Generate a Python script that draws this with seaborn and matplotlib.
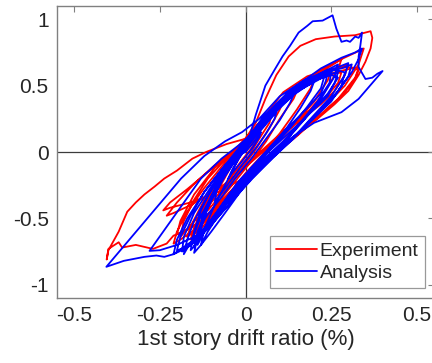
import matplotlib
matplotlib.use("Agg")
import matplotlib.pyplot as plt
import seaborn as sns
import pandas as pd

# Experiment: 1st story drift ratio (%) and normalized story shear, cycle by cycle
exp_drift = [
    0.0,
    0.02, 0.04, 0.035, 0.015, -0.01, -0.03, -0.04, -0.035, -0.015, 0.0,
    0.03, 0.06, 0.075, 0.07, 0.04, 0.01, -0.03, -0.06, -0.075, -0.07, -0.04, -0.01,
    0.03, 0.07, 0.10, 0.11, 0.10, 0.07, 0.03, -0.01, -0.05, -0.09, -0.11, -0.10, -0.07, -0.03, 0.0,
    0.04, 0.09, 0.13, 0.15, 0.14, 0.10, 0.06, 0.02, -0.03, -0.08, -0.12, -0.14, -0.13, -0.10, -0.05, -0.01,
    0.05, 0.10, 0.15, 0.19, 0.20, 0.19, 0.15, 0.10, 0.05, 0.0, -0.05, -0.10, -0.15, -0.17, -0.16, -0.12, -0.07, -0.02,
    0.04, 0.10, 0.16, 0.22, 0.25, 0.24, 0.20, 0.14, 0.08, 0.02, -0.04, -0.09, -0.13, -0.15, -0.14, -0.11, -0.06, -0.01,
    0.05, 0.12, 0.19, 0.25, 0.28, 0.27, 0.23, 0.17, 0.11, 0.05, -0.02, -0.08, -0.14, -0.19, -0.21, -0.20, -0.17, -0.12, -0.06, -0.01,
    0.04, 0.11, 0.18, 0.24, 0.28, 0.27, 0.23, 0.18, 0.12, 0.06, 0.0, -0.06, -0.12, -0.17, -0.19, -0.18, -0.15, -0.11, -0.06, -0.01,
    0.06, 0.13, 0.20, 0.26, 0.31, 0.33, 0.32, 0.28, 0.22, 0.15, 0.08, 0.01, -0.08, -0.16, -0.22, -0.24, -0.22, -0.17, -0.10, -0.04, 0.0,
    0.06, 0.14, 0.21, 0.27, 0.30, 0.29, 0.26, 0.22, 0.17, 0.11, 0.05, -0.02, -0.09, -0.16, -0.21, -0.23, -0.20, -0.15, -0.09, -0.03,
    0.07, 0.15, 0.22, 0.28, 0.33, 0.345, 0.33, 0.29, 0.23, 0.17, 0.10, 0.03, -0.04, -0.10, -0.14, -0.16, -0.15, -0.12, -0.07, -0.02, 0.0,
    0.03, 0.058, 0.09, 0.126, 0.16, 0.205, 0.26, 0.32, 0.35, 0.365, 0.37, 0.365, 0.35, 0.33, 0.30, 0.26, 0.21, 0.15, 0.09, 0.03,
    -0.03, -0.09, -0.14, -0.18, -0.21, -0.23, -0.27, -0.32, -0.36, -0.37, -0.40, -0.405, -0.40, -0.37, -0.345, -0.32, -0.295,
    -0.265, -0.237, -0.20, -0.155, -0.115, -0.055, 0.0,
    0.05, 0.11, 0.18, 0.24, 0.30, 0.33, 0.32, 0.27, 0.20, 0.13, 0.06, 0.0, -0.07, -0.13, -0.18, -0.20, -0.19, -0.15, -0.09, -0.03,
]
exp_force = [
    0.0,
    0.07, 0.14, 0.10, 0.02, -0.06, -0.13, -0.17, -0.12, -0.03, 0.03,
    0.12, 0.22, 0.27, 0.22, 0.10, -0.03, -0.15, -0.25, -0.30, -0.24, -0.10, 0.02,
    0.14, 0.27, 0.35, 0.38, 0.32, 0.18, 0.02, -0.12, -0.26, -0.38, -0.44, -0.37, -0.22, -0.05, 0.06,
    0.18, 0.33, 0.42, 0.46, 0.40, 0.25, 0.08, -0.06, -0.22, -0.38, -0.50, -0.55, -0.47, -0.30, -0.10, 0.04,
    0.22, 0.37, 0.47, 0.53, 0.55, 0.48, 0.32, 0.14, -0.02, -0.16, -0.32, -0.48, -0.60, -0.64, -0.56, -0.36, -0.15, 0.03,
    0.20, 0.38, 0.50, 0.58, 0.62, 0.54, 0.38, 0.20, 0.04, -0.12, -0.30, -0.46, -0.58, -0.62, -0.52, -0.34, -0.14, 0.02,
    0.22, 0.42, 0.56, 0.65, 0.70, 0.62, 0.45, 0.26, 0.08, -0.08, -0.25, -0.42, -0.57, -0.66, -0.69, -0.60, -0.45, -0.27, -0.08, 0.06,
    0.22, 0.40, 0.52, 0.58, 0.60, 0.52, 0.40, 0.30, 0.18, 0.04, -0.10, -0.26, -0.44, -0.58, -0.64, -0.52, -0.36, -0.20, -0.06, 0.04,
    0.25, 0.44, 0.55, 0.60, 0.63, 0.62, 0.55, 0.42, 0.28, 0.12, -0.03, -0.18, -0.30, -0.38, -0.42, -0.44, -0.38, -0.28, -0.13, 0.0, 0.07,
    0.28, 0.48, 0.58, 0.63, 0.66, 0.58, 0.46, 0.36, 0.26, 0.14, 0.0, -0.16, -0.30, -0.40, -0.46, -0.48, -0.38, -0.24, -0.10, 0.02,
    0.30, 0.50, 0.62, 0.70, 0.76, 0.78, 0.66, 0.50, 0.34, 0.18, 0.02, -0.14, -0.30, -0.45, -0.58, -0.66, -0.57, -0.40, -0.20, 0.0, 0.10,
    0.22, 0.40, 0.58, 0.72, 0.80, 0.85, 0.87, 0.88, 0.90, 0.91, 0.86, 0.78, 0.68, 0.58, 0.46, 0.36, 0.25, 0.13, 0.01, -0.12,
    -0.26, -0.42, -0.54, -0.60, -0.63, -0.69, -0.73, -0.70, -0.72, -0.68, -0.73, -0.81, -0.74, -0.60, -0.45, -0.38, -0.32,
    -0.26, -0.20, -0.14, -0.05, 0.0, 0.06, 0.10,
    0.25, 0.45, 0.57, 0.62, 0.64, 0.63, 0.56, 0.40, 0.24, 0.08, -0.06, -0.20, -0.38, -0.52, -0.60, -0.62, -0.52, -0.32, -0.12, 0.02,
]

# Analysis: same quantities from the numerical model
ana_drift = [
    0.0,
    0.02, 0.045, 0.04, 0.02, -0.01, -0.04, -0.05, -0.04, -0.02, 0.0,
    0.03, 0.07, 0.09, 0.085, 0.06, 0.03, -0.01, -0.05, -0.08, -0.09, -0.085, -0.06, -0.02, 0.0,
    0.04, 0.08, 0.12, 0.14, 0.13, 0.10, 0.06, 0.02, -0.03, -0.07, -0.11, -0.13, -0.125, -0.10, -0.06, -0.02,
    0.04, 0.09, 0.14, 0.18, 0.20, 0.19, 0.16, 0.12, 0.07, 0.02, -0.03, -0.08, -0.12, -0.15, -0.16, -0.15, -0.13, -0.09, -0.05, 0.0,
    0.04, 0.09, 0.15, 0.20, 0.24, 0.235, 0.22, 0.18, 0.13, 0.08, 0.03, -0.03, -0.08, -0.12, -0.14, -0.13, -0.11, -0.08, -0.04, 0.0,
    0.05, 0.11, 0.17, 0.22, 0.25, 0.245, 0.21, 0.16, 0.11, 0.05, -0.01, -0.07, -0.12, -0.16, -0.18, -0.17, -0.15, -0.11, -0.06, -0.01,
    0.05, 0.12, 0.18, 0.23, 0.27, 0.26, 0.24, 0.20, 0.15, 0.10, 0.04, -0.02, -0.07, -0.11, -0.14, -0.16, -0.15, -0.13, -0.10, -0.06, -0.02,
    0.06, 0.13, 0.20, 0.26, 0.30, 0.29, 0.25, 0.19, 0.13, 0.07, 0.01, -0.05, -0.10, -0.14, -0.17, -0.20, -0.19, -0.16, -0.12, -0.06, -0.01,
    0.07, 0.15, 0.22, 0.28, 0.32, 0.34, 0.33, 0.31, 0.27, 0.22, 0.16, 0.10, 0.04, -0.02, -0.08, -0.13, -0.17, -0.21, -0.20, -0.17, -0.12, -0.06, 0.0,
    0.04, 0.10, 0.16, 0.21, 0.23, 0.22, 0.18, 0.13, 0.08, 0.03, -0.02, -0.07, -0.11, -0.13, -0.12, -0.09, -0.05, -0.01,
    0.06, 0.14, 0.21, 0.26, 0.29, 0.28, 0.25, 0.21, 0.16, 0.11, 0.05, -0.01, -0.06, -0.10, -0.13, -0.15, -0.14, -0.12, -0.09, -0.05, 0.0,
    0.05, 0.12, 0.19, 0.24, 0.27, 0.26, 0.22, 0.17, 0.11, 0.05, -0.01, -0.06, -0.11, -0.15, -0.185, -0.18, -0.15, -0.10, -0.05, 0.0,
    0.01, 0.03, 0.058, 0.085, 0.108, 0.13, 0.155, 0.18, 0.196, 0.225, 0.254, 0.265, 0.28, 0.295, 0.305, 0.32, 0.33, 0.34, 0.335, 0.33,
    0.33, 0.35, 0.37, 0.385, 0.40, 0.37, 0.33, 0.28, 0.20, 0.13, 0.07, 0.02, -0.03, -0.08, -0.12, -0.16, -0.21, -0.237, -0.26, -0.295,
    -0.355, -0.406, -0.188, -0.12, -0.06, -0.01,
    0.04, 0.10, 0.17, 0.23, 0.28, 0.31, 0.30, 0.26, 0.20, 0.14, 0.08, 0.02, -0.05, -0.10, -0.15, -0.20, -0.25, -0.28, -0.13, -0.07, -0.02,
    0.05, 0.12, 0.19, 0.25, 0.27, 0.24, 0.19, 0.13, 0.07, 0.01, -0.05, -0.10, -0.14, -0.15, -0.14, -0.11, -0.07, -0.02, 0.0,
]
ana_force = [
    0.0,
    0.06, 0.15, 0.11, 0.03, -0.07, -0.16, -0.20, -0.14, -0.05, 0.02,
    0.12, 0.24, 0.30, 0.25, 0.14, 0.03, -0.10, -0.24, -0.34, -0.38, -0.30, -0.18, -0.03, 0.04,
    0.16, 0.28, 0.38, 0.43, 0.37, 0.24, 0.10, -0.04, -0.20, -0.34, -0.47, -0.55, -0.47, -0.33, -0.16, 0.0,
    0.18, 0.32, 0.43, 0.50, 0.53, 0.46, 0.33, 0.18, 0.03, -0.12, -0.28, -0.44, -0.57, -0.65, -0.70, -0.62, -0.48, -0.30, -0.13, 0.03,
    0.20, 0.36, 0.50, 0.57, 0.62, 0.54, 0.44, 0.33, 0.20, 0.06, -0.08, -0.26, -0.44, -0.60, -0.70, -0.58, -0.42, -0.24, -0.08, 0.02,
    0.22, 0.38, 0.50, 0.56, 0.60, 0.52, 0.38, 0.22, 0.06, -0.08, -0.24, -0.42, -0.58, -0.68, -0.77, -0.66, -0.52, -0.33, -0.14, 0.04,
    0.26, 0.44, 0.54, 0.58, 0.60, 0.52, 0.42, 0.32, 0.20, 0.08, -0.06, -0.22, -0.40, -0.56, -0.68, -0.74, -0.60, -0.44, -0.28, -0.12, 0.02,
    0.26, 0.44, 0.56, 0.63, 0.67, 0.58, 0.42, 0.25, 0.08, -0.07, -0.22, -0.40, -0.55, -0.66, -0.72, -0.74, -0.64, -0.48, -0.30, -0.10, 0.06,
    0.30, 0.50, 0.63, 0.71, 0.75, 0.78, 0.70, 0.60, 0.46, 0.32, 0.16, 0.02, -0.12, -0.28, -0.46, -0.62, -0.72, -0.77, -0.66, -0.50, -0.30, -0.10, 0.06,
    0.20, 0.36, 0.47, 0.54, 0.57, 0.48, 0.34, 0.18, 0.04, -0.10, -0.26, -0.44, -0.60, -0.70, -0.58, -0.40, -0.20, 0.0,
    0.28, 0.47, 0.57, 0.62, 0.60, 0.50, 0.38, 0.28, 0.16, 0.04, -0.10, -0.28, -0.46, -0.60, -0.70, -0.76, -0.64, -0.46, -0.28, -0.10, 0.04,
    0.24, 0.42, 0.55, 0.62, 0.66, 0.57, 0.40, 0.24, 0.08, -0.06, -0.22, -0.40, -0.56, -0.68, -0.75, -0.64, -0.46, -0.26, -0.08, 0.05,
    0.10, 0.28, 0.50, 0.62, 0.72, 0.80, 0.90, 0.95, 0.985, 0.99, 1.03, 0.93, 0.83, 0.84, 0.83, 0.87, 0.86, 0.90, 0.80, 0.72,
    0.64, 0.55, 0.56, 0.59, 0.61, 0.52, 0.40, 0.30, 0.22, 0.10, -0.04, -0.18, -0.32, -0.46, -0.58, -0.68, -0.77, -0.79, -0.78, -0.79,
    -0.82, -0.865, -0.20, -0.03, 0.08, 0.15,
    0.25, 0.42, 0.54, 0.60, 0.63, 0.66, 0.57, 0.42, 0.26, 0.10, -0.04, -0.20, -0.40, -0.55, -0.64, -0.70, -0.74, -0.745, -0.20, -0.05, 0.05,
    0.20, 0.40, 0.53, 0.58, 0.56, 0.44, 0.30, 0.12, -0.03, -0.18, -0.36, -0.52, -0.64, -0.72, -0.60, -0.42, -0.22, -0.02, 0.0,
]

x_ticks = [-0.5, -0.25, 0, 0.25, 0.5]
x_tick_labels = ["-0.5", "-0.25", "0", "0.25", "0.5"]
y_ticks = [-1, -0.5, 0, 0.5, 1]
y_tick_labels = ["-1", "-0.5", "0", "0.5", "1"]
x_label = "1st story drift ratio (%)"

sns.set_style("white")
plt.rcParams["font.family"] = ["Liberation Sans", "DejaVu Sans"]
plt.rcParams["axes.unicode_minus"] = False

exp_df = pd.DataFrame({"drift": exp_drift, "force": exp_force})
ana_df = pd.DataFrame({"drift": ana_drift, "force": ana_force})

fig = plt.figure(figsize=(4.32, 3.63), dpi=100)
ax = fig.add_axes([57 / 432, 1 - 298 / 363, (434 - 57) / 432, 292 / 363])

ax.axhline(0, color="#3c3c3c", lw=0.9, zorder=0.5)
ax.axvline(0, color="#3c3c3c", lw=0.9, zorder=0.5)

sns.lineplot(data=exp_df, x="drift", y="force", sort=False, estimator=None,
             color="#ff0000", lw=1.3, label="Experiment", ax=ax)
sns.lineplot(data=ana_df, x="drift", y="force", sort=False, estimator=None,
             color="#0000ff", lw=1.3, label="Analysis", ax=ax)

ax.set_xlim(-0.55, 0.55)
ax.set_ylim(-1.1, 1.1)
ax.set_xticks(x_ticks)
ax.set_xticklabels(x_tick_labels)
ax.set_yticks(y_ticks)
ax.set_yticklabels(y_tick_labels)
ax.tick_params(direction="in", length=4, width=0.8, top=True, right=True,
               color="#808080", labelsize=15, labelcolor="#262626", pad=6)
for sp in ax.spines.values():
    sp.set_color("#808080")
    sp.set_linewidth(1.0)

ax.set_xlabel(x_label, fontsize=16, color="#262626", labelpad=3)
ax.set_ylabel("")

leg = ax.legend(loc="lower right", bbox_to_anchor=(0.975, 0.034), borderaxespad=0,
                frameon=True, fancybox=False, fontsize=14, handlelength=2.1,
                handletextpad=0.15, borderpad=0.3, labelspacing=0.25)
leg.get_frame().set_edgecolor("#808080")
leg.get_frame().set_linewidth(0.9)
for t in leg.get_texts():
    t.set_color("#262626")

fig.savefig("out.png", dpi=100)
